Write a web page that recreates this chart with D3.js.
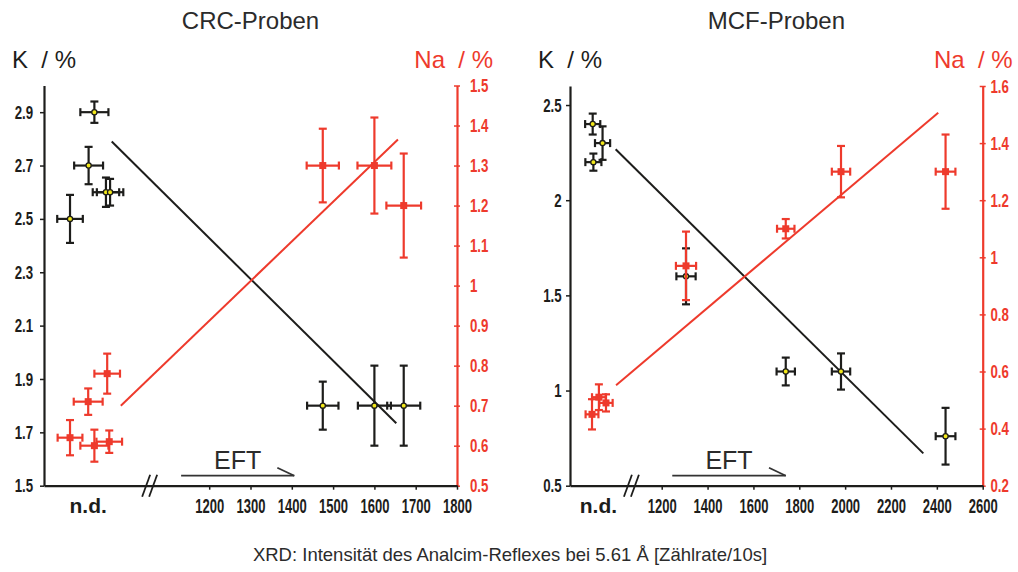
<!DOCTYPE html>
<html lang="de">
<head>
<meta charset="utf-8">
<title>CRC / MCF Proben</title>
<script src="https://cdn.jsdelivr.net/npm/d3@7"></script>
<style>
  body { margin: 0; background: #fff; }
  #chart { width: 1018px; height: 572px; }
  .tick text { font-family: "Liberation Sans", Arial, sans-serif; font-weight: bold; font-size: 19px; }
  .x-axis .tick text { font-size: 21px; }
  .lbl { font-family: "Liberation Sans", Arial, sans-serif; fill: #2b2b2b; }
</style>
</head>
<body>
<div id="chart"></div>
<script>

// x = Zaehlrate (n.d. samples sit left of the axis break), xe / e = error bars
const crcK = [
  {x: 922, xe: 34, v: 2.9, e: 0.04},
  {x: 908, xe: 35, v: 2.7, e: 0.07},
  {x: 950, xe: 32, v: 2.6, e: 0.055},
  {x: 960, xe: 32, v: 2.6, e: 0.05},
  {x: 863, xe: 31, v: 2.5, e: 0.09},
  {x: 1475, xe: 38, v: 1.8, e: 0.09},
  {x: 1600, xe: 40, v: 1.8, e: 0.15},
  {x: 1671, xe: 40, v: 1.8, e: 0.15}
]
const crcNa = [
  {x: 953, xe: 31, v: 0.78, e: 0.05},
  {x: 907, xe: 35, v: 0.71, e: 0.033},
  {x: 863, xe: 30, v: 0.62, e: 0.044},
  {x: 922, xe: 34, v: 0.60, e: 0.04},
  {x: 958, xe: 31, v: 0.61, e: 0.028},
  {x: 1475, xe: 39, v: 1.30, e: 0.092},
  {x: 1600, xe: 41, v: 1.30, e: 0.12},
  {x: 1671, xe: 42, v: 1.20, e: 0.13}
]
const crcFitK = [{x: 964, v: 2.79}, {x: 1653, v: 1.734}]
const crcFitNa = [{x: 986, v: 0.70}, {x: 1657, v: 1.365}]

const mcfK = [
  {x: 899, xe: 33, v: 2.40, e: 0.055},
  {x: 942, xe: 33, v: 2.30, e: 0.088},
  {x: 902, xe: 35, v: 2.20, e: 0.045},
  {x: 1306, xe: 42, v: 1.60, e: 0.147},
  {x: 1741, xe: 40, v: 1.10, e: 0.073},
  {x: 1982, xe: 40, v: 1.10, e: 0.095},
  {x: 2438, xe: 43, v: 0.76, e: 0.149}
]
const mcfNa = [
  {x: 896, xe: 28, v: 0.45, e: 0.053},
  {x: 926, xe: 30, v: 0.51, e: 0.045},
  {x: 957, xe: 29, v: 0.49, e: 0.03},
  {x: 1306, xe: 44, v: 0.97, e: 0.12},
  {x: 1741, xe: 38, v: 1.10, e: 0.034},
  {x: 1982, xe: 40, v: 1.30, e: 0.09},
  {x: 2438, xe: 43, v: 1.30, e: 0.13}
]
const mcfFitK = [{x: 999, v: 2.268}, {x: 2341, v: 0.67}]
const mcfFitNa = [{x: 1001, v: 0.552}, {x: 2406, v: 1.506}]

// tick labels
const crcKTicks = [1.5, 1.7, 1.9, 2.1, 2.3, 2.5, 2.7, 2.9]
const crcNaTicks = [0.5, 0.6, 0.7, 0.8, 0.9, 1, 1.1, 1.2, 1.3, 1.4, 1.5]
const crcXTicks = [1200, 1300, 1400, 1500, 1600, 1700, 1800]
const mcfKTicks = [0.5, 1, 1.5, 2, 2.5]
const mcfNaTicks = [0.2, 0.4, 0.6, 0.8, 1, 1.2, 1.4, 1.6]
const mcfXTicks = [1200, 1400, 1600, 1800, 2000, 2200, 2400, 2600]

const BLACK = '#1d1d1b'
const RED = '#ee3a2c'
const NARROW = 0.7    // tick labels are a condensed face
const NARROW_X = 0.62

const app = {}

app.panels = [
  {
    title: 'CRC-Proben', left: 44, right: 457, top: 85.5, bottom: 485.7,
    xDomain: [800, 1800], kDomain: [1.5, 3.0], naDomain: [0.5, 1.5],
    kTicks: crcKTicks, naTicks: crcNaTicks, xTicks: crcXTicks,
    k: crcK, na: crcNa, fitK: crcFitK, fitNa: crcFitNa,
    nd: 907, brk: 1057, eft: [1132, 1406, 1365], naLabelDx: 36,
    kPad: 11.5, naPad: 14.5
  },
  {
    title: 'MCF-Proben', left: 570, right: 982.7, top: 86, bottom: 485.7,
    xDomain: [800, 2600], kDomain: [0.5, 2.6], naDomain: [0.2, 1.6],
    kTicks: mcfKTicks, naTicks: mcfNaTicks, xTicks: mcfXTicks,
    k: mcfK, na: mcfNa, fitK: mcfFitK, fitNa: mcfFitNa,
    nd: 924, brk: 1070, eft: [1246, 1741, 1668], naLabelDx: 30,
    kPad: 8, naPad: 7
  }
]

app.drawPanel = (svg, p) => {
  const g = svg.append('g')

  const x = d3.scaleLinear().domain(p.xDomain).range([p.left, p.right])
  const yK = d3.scaleLinear().domain(p.kDomain).range([p.bottom, p.top])
  const yNa = d3.scaleLinear().domain(p.naDomain).range([p.bottom, p.top])

  // titles
  g.append('text').attr('class', 'lbl')
    .attr('x', (p.left + p.right) / 2).attr('y', 29)
    .attr('text-anchor', 'middle').style('font-size', '24px')
    .text(p.title)
  g.append('text').attr('class', 'lbl')
    .attr('x', p.left - 32).attr('y', 68)
    .style('font-size', '24px').style('fill', BLACK).style('white-space', 'pre')
    .text('K  / %')
  g.append('text').attr('class', 'lbl')
    .attr('x', p.right + p.naLabelDx).attr('y', 68)
    .attr('text-anchor', 'end')
    .style('font-size', '24px').style('fill', RED).style('white-space', 'pre')
    .text('Na  / %')

  // axes
  const fmt = d3.format('~g')
  const axK = g.append('g')
    .attr('transform', `translate(${p.left},0)`)
    .call(d3.axisLeft(yK).tickValues(p.kTicks).tickFormat(fmt).tickSizeInner(4).tickSizeOuter(0).tickPadding(p.kPad))
  const axNa = g.append('g')
    .attr('transform', `translate(${p.right},0)`)
    .call(d3.axisRight(yNa).tickValues(p.naTicks).tickFormat(fmt).tickSizeInner(4).tickSizeOuter(0).tickPadding(p.naPad))
  const axX = g.append('g').attr('class', 'x-axis')
    .attr('transform', `translate(0,${p.bottom})`)
    .call(d3.axisBottom(x).tickValues(p.xTicks).tickFormat(d3.format('d')).tickSizeInner(4).tickSizeOuter(0).tickPadding(8))

  axK.select('.domain').attr('stroke', BLACK).attr('stroke-width', 2.2)
  axK.selectAll('.tick line').attr('stroke', BLACK).attr('stroke-width', 1.5)
  axK.selectAll('.tick text').attr('fill', BLACK)

  axNa.select('.domain').attr('stroke', RED).attr('stroke-width', 2.2)
  axNa.selectAll('.tick line').attr('stroke', RED).attr('stroke-width', 1.5).attr('x1', -3).attr('x2', 3)
  axNa.selectAll('.tick text').attr('fill', RED)

  axX.select('.domain').attr('stroke', BLACK).attr('stroke-width', 2.2)
  axX.selectAll('.tick line').attr('stroke', BLACK).attr('stroke-width', 1.5)
  axX.selectAll('.tick text').attr('fill', BLACK)

  // squeeze the tick labels horizontally
  axK.selectAll('.tick text').attr('transform', `scale(${NARROW},1)`)
  axNa.selectAll('.tick text').attr('transform', `scale(${NARROW},1)`)
  axX.selectAll('.tick text').attr('transform', `scale(${NARROW_X},1)`)

  // axis break and n.d. label
  const bx = x(p.brk)
  ;[-4, 3].forEach(dx => {
    g.append('line')
      .attr('x1', bx + dx - 4).attr('y1', p.bottom + 11)
      .attr('x2', bx + dx + 4).attr('y2', p.bottom - 11)
      .attr('stroke', BLACK).attr('stroke-width', 1.8)
  })
  g.append('text').attr('class', 'lbl')
    .attr('x', x(p.nd)).attr('y', p.bottom + 27)
    .attr('text-anchor', 'middle')
    .style('font-size', '21px').style('font-weight', 'bold').style('fill', BLACK)
    .text('n.d.')

  // EFT arrow
  const ey = p.bottom - 10
  g.append('line')
    .attr('x1', x(p.eft[0])).attr('x2', x(p.eft[1])).attr('y1', ey).attr('y2', ey)
    .attr('stroke', '#333').attr('stroke-width', 1.8)
  g.append('line')
    .attr('x1', x(p.eft[2])).attr('y1', ey - 8).attr('x2', x(p.eft[1])).attr('y2', ey)
    .attr('stroke', '#333').attr('stroke-width', 1.8)
  g.append('text').attr('class', 'lbl')
    .attr('x', (x(p.eft[0]) + x(p.eft[1])) / 2).attr('y', ey - 7)
    .attr('text-anchor', 'middle').style('font-size', '25px')
    .text('EFT')

  // regression lines
  const line = y => d3.line().x(d => x(d.x)).y(d => y(d.v))
  g.append('path').datum(p.fitK).attr('d', line(yK))
    .attr('fill', 'none').attr('stroke', BLACK).attr('stroke-width', 2)
  g.append('path').datum(p.fitNa).attr('d', line(yNa))
    .attr('fill', 'none').attr('stroke', RED).attr('stroke-width', 2)

  // error bars + markers
  const errBars = (data, y, color) => {
    const cap = 4
    const eg = g.append('g').attr('stroke', color).attr('stroke-width', 2.2)
    data.forEach(d => {
      const cx = x(d.x), cy = y(d.v)
      const x0 = x(d.x - d.xe), x1 = x(d.x + d.xe)
      const y0 = y(d.v - d.e), y1 = y(d.v + d.e)
      eg.append('line').attr('x1', x0).attr('x2', x1).attr('y1', cy).attr('y2', cy)
      eg.append('line').attr('x1', cx).attr('x2', cx).attr('y1', y0).attr('y2', y1)
      eg.append('line').attr('x1', x0).attr('x2', x0).attr('y1', cy - cap).attr('y2', cy + cap)
      eg.append('line').attr('x1', x1).attr('x2', x1).attr('y1', cy - cap).attr('y2', cy + cap)
      eg.append('line').attr('x1', cx - cap).attr('x2', cx + cap).attr('y1', y0).attr('y2', y0)
      eg.append('line').attr('x1', cx - cap).attr('x2', cx + cap).attr('y1', y1).attr('y2', y1)
    })
  }

  errBars(p.k, yK, BLACK)
  g.append('g').selectAll('circle').data(p.k).join('circle')
    .attr('cx', d => x(d.x)).attr('cy', d => yK(d.v)).attr('r', 2.6)
    .attr('fill', '#f3e81a').attr('stroke', BLACK).attr('stroke-width', 1.3)

  errBars(p.na, yNa, RED)
  g.append('g').selectAll('rect').data(p.na).join('rect')
    .attr('x', d => x(d.x) - 3.5).attr('y', d => yNa(d.v) - 3.5)
    .attr('width', 7).attr('height', 7).attr('fill', RED)
}

app.buildChart = () => {
  d3.select('#chart').html('')
  const svg = d3.select('#chart').append('svg')
    .attr('width', 1018).attr('height', 572)

  app.panels.forEach(p => app.drawPanel(svg, p))

  svg.append('text').attr('class', 'lbl')
    .attr('x', 510).attr('y', 561)
    .attr('text-anchor', 'middle').style('font-size', '18.5px')
    .text('XRD: Intensität des Analcim-Reflexes bei 5.61 Å [Zählrate/10s]')
}

app.buildChart()

</script>
</body>
</html>
